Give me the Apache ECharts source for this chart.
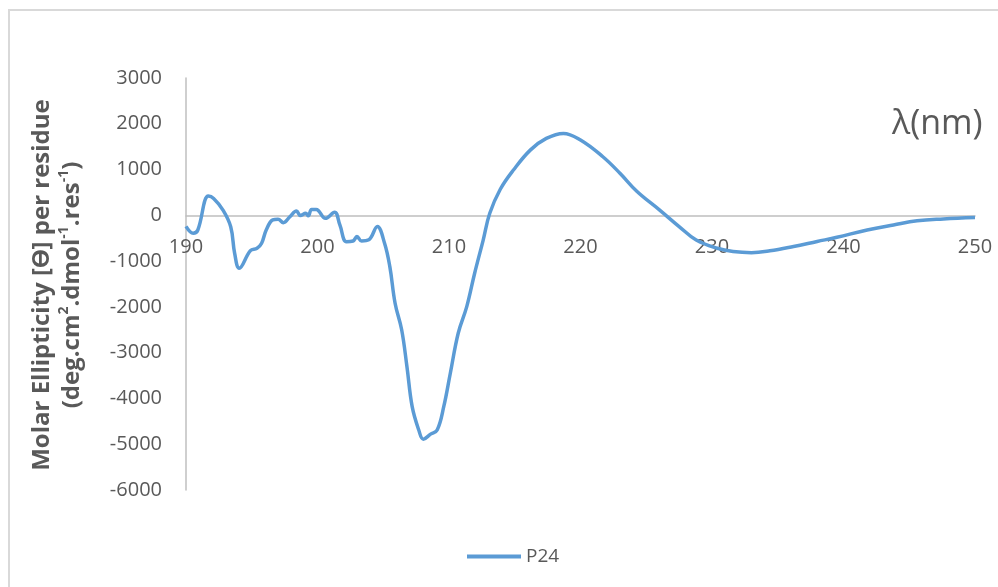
<!DOCTYPE html>
<html>
<head>
<meta charset="utf-8">
<script src="https://cdn.jsdelivr.net/npm/echarts@6/dist/echarts.min.js"></script>
<style>html,body{margin:0;padding:0;background:#fff}#c{width:998px;height:587px}</style>
</head>
<body>
<div id="c"></div>
<script>
var seriesName = 'P24';
var wavelength = [190, 190.55, 190.9, 191.7, 192.1, 192.8, 193.4, 193.7, 194.05, 194.9, 195.4, 195.75, 196.1, 196.6, 197.0, 197.4, 197.9, 198.4, 198.7, 199.1, 199.3, 199.55, 199.9, 200.6, 201.3, 201.7, 202.2, 202.7, 203.0, 203.35, 203.9, 204.55, 205.1, 205.5, 205.9, 206.4, 206.8, 207.2, 207.7, 208.05, 208.6, 209.1, 209.6, 210.1, 210.7, 211.35, 211.95, 212.6, 213.1, 213.9, 214.9, 216.2, 217.4, 218.7, 220.0, 221.7, 223.0, 224.3, 226.0, 227.5, 228.8, 230.4, 231.6, 233.0, 234.4, 236.2, 238.0, 239.5, 241.8, 243.8, 245.6, 247.6, 250];
var ellipticity = [-240, -390, -320, 420, 370, 120, -250, -830, -1155, -770, -720, -610, -320, -100, -85, -160, -30, 95, -5, 45, -10, 130, 130, -65, 70, -210, -575, -560, -465, -560, -535, -245, -610, -1120, -1920, -2500, -3300, -4180, -4690, -4890, -4780, -4690, -4180, -3450, -2575, -1995, -1265, -540, 45, 570, 990, 1430, 1680, 1790, 1645, 1280, 920, 520, 120, -245, -540, -720, -790, -815, -775, -680, -570, -480, -320, -210, -120, -80, -50];
var yTitleLines = ['Molar Ellipticity [\u03F4] per residue', '(deg.cm{s|2}.dmol{s|-1}.res{s|-1})'];
var xTitle = '\u03BB(nm)';

var yMin = -6000, yMax = 3000;
var gridTop = 78, gridBottom = 97, chartH = 587;
var gridH = chartH - gridTop - gridBottom;
var zeroOffset = -gridH * (0 - yMin) / (yMax - yMin);

var data = wavelength.map(function (x, i) { return [x, ellipticity[i]]; });
var chart = echarts.init(document.getElementById('c'));
var txt = '#595959';
var ff = 'Open Sans, Liberation Sans, sans-serif';
chart.setOption({
  animation: false,
  backgroundColor: '#fff',
  grid: { left: 186, right: 23, top: gridTop, bottom: gridBottom },
  legend: {
    top: 542, left: 462,
    data: [seriesName],
    itemWidth: 54, itemHeight: 4, itemGap: 6,
    icon: 'rect',
    textStyle: { color: txt, fontSize: 19, fontFamily: ff }
  },
  xAxis: {
    type: 'value', min: 190, max: 250, interval: 10,
    position: 'bottom', offset: zeroOffset,
    axisLine: { onZero: false, lineStyle: { color: '#bfbfbf', width: 1.5 } },
    axisTick: { show: false },
    splitLine: { show: false },
    axisLabel: { color: txt, fontSize: 20, margin: 22, fontFamily: ff }
  },
  yAxis: {
    type: 'value', min: yMin, max: yMax, interval: 1000,
    axisLine: { show: true, lineStyle: { color: '#bfbfbf', width: 1.5 } },
    axisTick: { show: false },
    splitLine: { show: false },
    axisLabel: { color: txt, fontSize: 20, margin: 24, fontFamily: ff, formatter: function (v) { return String(v); } }
  },
  graphic: [
    { type: 'rect', shape: { x: 9, y: 10, width: 1010, height: 600 }, style: { fill: 'none', stroke: '#d9d9d9', lineWidth: 2 }, silent: true },
    { type: 'text', left: 892, top: 107, style: { text: xTitle, fill: txt, fontSize: 34, fontFamily: ff } },
    { type: 'text', x: 57, y: 285, rotation: Math.PI / 2,
      style: {
        text: yTitleLines.join('\n'), fill: txt, fontSize: 24, fontWeight: 'bold', lineHeight: 30,
        align: 'center', verticalAlign: 'middle',
        fontFamily: ff,
        rich: { s: { fontSize: 14, fontWeight: 'bold', verticalAlign: 'top', padding: [0, 0, 10, 0], fill: txt, fontFamily: ff } }
      } }
  ],
  series: [{
    name: seriesName, type: 'line', data: data, smooth: 0.4, showSymbol: false,
    lineStyle: { color: '#5b9bd5', width: 3.5 }, itemStyle: { color: '#5b9bd5' }
  }]
});
</script>
</body>
</html>
